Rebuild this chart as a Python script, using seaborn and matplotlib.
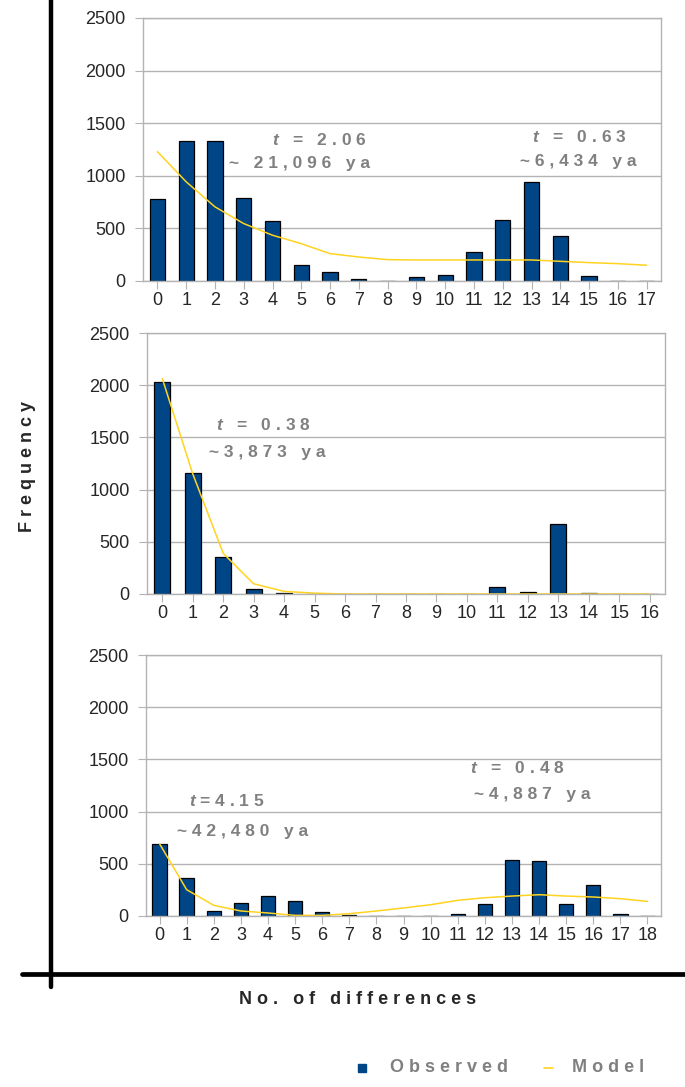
import matplotlib
matplotlib.use("Agg")
import matplotlib.pyplot as plt
import seaborn as sns
import pandas as pd
from matplotlib.lines import Line2D

# ---- data ----
diffs_a = list(range(18))
obs_a = [778, 1333, 1333, 790, 568, 156, 83, 16, 3, 38, 60, 273, 578, 943, 425, 48, 3, 0]
model_a = [1230, 943, 705, 546, 435, 355, 260, 228, 203, 200, 200, 200, 200, 200, 187, 175, 165, 150]

diffs_b = list(range(17))
obs_b = [2030, 1158, 355, 48, 6, 0, 0, 0, 0, 0, 0, 63, 22, 673, 13, 0, 0]
model_b = [2065, 1152, 390, 98, 25, 8, 0, 0, 0, 0, 0, 0, 0, 0, 0, 0, 0]

diffs_c = list(range(19))
obs_c = [692, 360, 51, 121, 191, 143, 38, 6, 0, 0, 0, 16, 112, 536, 526, 112, 300, 16, 0]
model_c = [692, 252, 102, 48, 29, 6, 6, 22, 48, 77, 108, 150, 175, 191, 204, 191, 182, 166, 140]

# annotations: (x, y, text)
notes_a = [(4.0, 1340, "t = 2.06"), (2.5, 1120, "~ 21,096 ya"),
           (13.0, 1370, "t = 0.63"), (12.6, 1140, "~6,434 ya")]
notes_b = [(1.75, 1620, "t = 0.38"), (1.55, 1360, "~3,873 ya")]
notes_c = [(1.1, 1100, "t=4.15"), (0.65, 805, "~42,480 ya"),
           (11.45, 1420, "t = 0.48"), (11.6, 1160, "~4,887 ya")]

NAVY = "#004586"
YELLOW = "#ffd320"
GREY = "#b3b3b3"
TXT = "#808080"

sns.set_style("white")
plt.rcParams["font.family"] = ["Liberation Sans", "DejaVu Sans"]
plt.rcParams["mathtext.fontset"] = "custom"
plt.rcParams["mathtext.it"] = "Liberation Sans:italic:bold"
plt.rcParams["mathtext.rm"] = "Liberation Sans:bold"


def spaced(s):
    # wide letter spacing like the original labels
    out = " ".join(s)
    return out.replace("t", "$t$", 1) if s.startswith("t") else out


W, H = 685, 1087
fig = plt.figure(figsize=(W / 100, H / 100), dpi=100)

panels = [
    ((143, 18, 661, 281), diffs_a, obs_a, model_a, notes_a),
    ((147, 333, 665, 594), diffs_b, obs_b, model_b, notes_b),
    ((146, 655, 661, 916), diffs_c, obs_c, model_c, notes_c),
]

for (x0, y0, x1, y1), xs, obs, model, notes in panels:
    ax = fig.add_axes([x0 / W, 1 - y1 / H, (x1 - x0) / W, (y1 - y0) / H])
    df = pd.DataFrame({"diff": xs, "obs": obs, "model": model})
    sns.barplot(data=df, x="diff", y="obs", color=NAVY, saturation=1,
                edgecolor="black", linewidth=0.9, width=0.53, ax=ax)
    sns.lineplot(x=list(range(len(xs))), y=df["model"], color=YELLOW,
                 linewidth=1.1, ax=ax)
    ax.set_xlim(-0.5, len(xs) - 0.5)
    ax.set_ylim(0, 2500)
    ax.set_yticks(range(0, 2501, 500))
    ax.yaxis.grid(True, color=GREY, linewidth=1)
    ax.set_axisbelow(True)
    for sp in ax.spines.values():
        sp.set_color(GREY)
        sp.set_linewidth(1)
    ax.tick_params(axis="y", left=True, length=6, color=GREY, labelsize=13, pad=6.5)
    ax.tick_params(axis="x", bottom=True, length=6, color=GREY, labelsize=13, pad=2)
    ax.set_xlabel("")
    ax.set_ylabel("")
    for nx, ny, t in notes:
        ax.text(nx, ny, spaced(t), color=TXT, fontsize=12.5, fontweight="bold",
                ha="left", va="center")

# heavy black frame lines
fig.add_artist(Line2D([51 / W, 51 / W], [1, 1 - 987 / H], color="black",
                      linewidth=3.2, transform=fig.transFigure))
fig.add_artist(Line2D([22 / W, 1], [1 - 974 / H, 1 - 974 / H], color="black",
                      linewidth=3.4, transform=fig.transFigure))

fig.text(27 / W, 1 - 466 / H, " ".join("Frequency"), rotation=90, fontsize=13,
         fontweight="bold", ha="center", va="center")
fig.text(358 / W, 1 - 1000 / H, " ".join("No. of differences"), fontsize=13,
         fontweight="bold", ha="center", va="center")

# legend
ly = 1 - 1068 / H
fig.add_artist(Line2D([362 / W], [ly], marker="s", markersize=6, color=NAVY,
                      linestyle="none", transform=fig.transFigure))
fig.text(390 / W, ly, " ".join("Observed"), color=TXT, fontsize=13,
         fontweight="bold", ha="left", va="center")
fig.add_artist(Line2D([544 / W, 553 / W], [ly, ly], color=YELLOW, linewidth=1.2,
                      transform=fig.transFigure))
fig.text(572 / W, ly, " ".join("Model"), color=TXT, fontsize=13,
         fontweight="bold", ha="left", va="center")

fig.savefig("out.png", dpi=100)
